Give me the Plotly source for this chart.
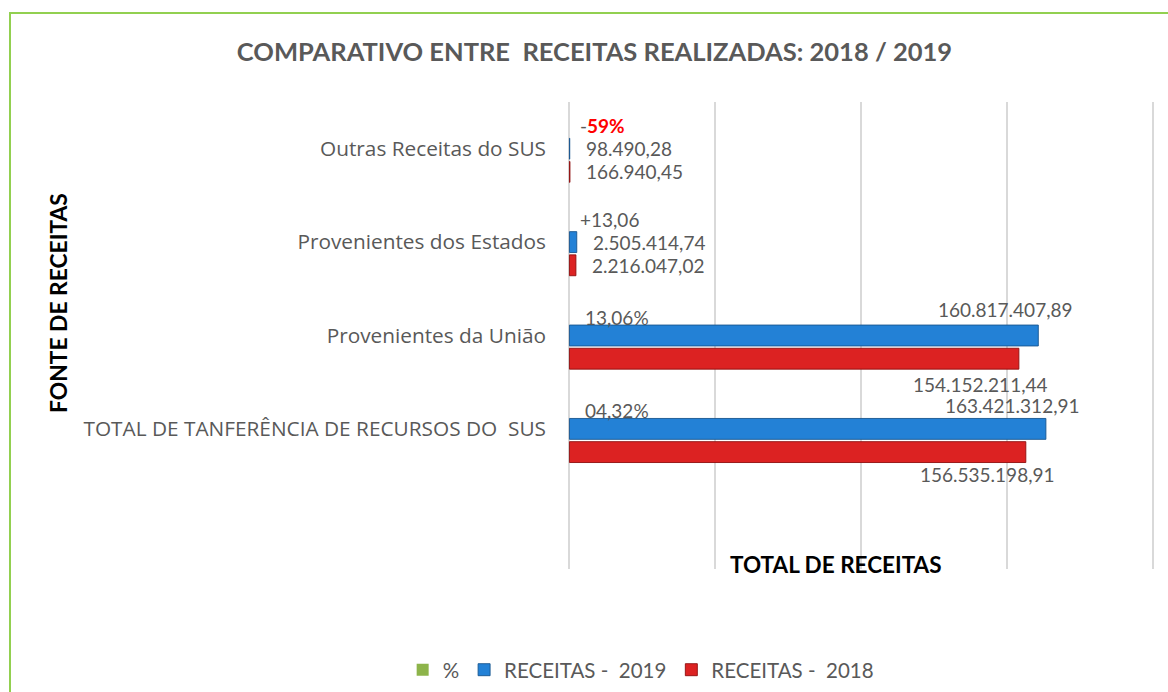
import plotly.graph_objects as go

# ---- data ----
categories = ["TOTAL DE TANFERÊNCIA DE RECURSOS DO\u00a0\u00a0SUS",
              "Provenientes da União",
              "Provenientes dos Estados",
              "Outras Receitas do SUS"]
receitas_2019 = [163421312.91, 160817407.89, 2505414.74, 98490.28]
receitas_2018 = [156535198.91, 154152211.44, 2216047.02, 166940.45]
pct_values = [0, 0, 0, 0]
pct_labels = ["04,32%", "13,06%", "+13,06", "-59%"]

def br(v):
    s = f"{v:,.2f}"
    return s.replace(",", "X").replace(".", ",").replace("X", ".")

GREY = "#595959"
FONT = "Lato"
TICKFONT = "Open Sans"
LBL = 19

fig = go.Figure()
fig.add_trace(go.Bar(name="RECEITAS -\u00a0\u00a02018", y=categories, x=receitas_2018, orientation="h",
                     marker=dict(color="#DC2222", line=dict(color="#8E0E0E", width=0.9)),
                     legendrank=3))
fig.add_trace(go.Bar(name="RECEITAS -\u00a0\u00a02019", y=categories, x=receitas_2019, orientation="h",
                     marker=dict(color="#2381D6", line=dict(color="#17568F", width=0.9)),
                     legendrank=2))
fig.add_trace(go.Bar(name="%", y=categories, x=pct_values, orientation="h",
                     marker=dict(color="#8DB44A", line=dict(width=0)),
                     legendrank=1))

ann = []
SLOT = 23
for i, cat in enumerate(categories):
    v19, v18 = receitas_2019[i], receitas_2018[i]
    big = v19 > 50e6
    off = 26 if i == 1 else 23
    if pct_labels[i].startswith("-"):
        txt = f"<span style='color:{GREY}'>-</span><b><span style='color:#FF0000'>{pct_labels[i][1:]}</span></b>"
    else:
        txt = pct_labels[i]
    ann.append(dict(x=0, y=cat, xref="x", yref="y", text=txt, showarrow=False,
                    xanchor="left", yanchor="middle", xshift=14 if big else 9,
                    yshift=SLOT + (-5 if big else 0),
                    font=dict(family=FONT, size=LBL, color=GREY)))
    if big:
        ann.append(dict(x=v19, y=cat, xref="x", yref="y", text=br(v19), showarrow=False,
                        xanchor="center", yanchor="middle", xshift=-33, yshift=off,
                        font=dict(family=FONT, size=LBL, color=GREY)))
        ann.append(dict(x=v18, y=cat, xref="x", yref="y", text=br(v18), showarrow=False,
                        xanchor="center", yanchor="middle", xshift=-38, yshift=-SLOT - off,
                        font=dict(family=FONT, size=LBL, color=GREY)))
    else:
        ann.append(dict(x=v19, y=cat, xref="x", yref="y", text=br(v19), showarrow=False,
                        xanchor="left", yanchor="middle", xshift=14, yshift=0,
                        font=dict(family=FONT, size=LBL, color=GREY)))
        ann.append(dict(x=v18, y=cat, xref="x", yref="y", text=br(v18), showarrow=False,
                        xanchor="left", yanchor="middle", xshift=14, yshift=-SLOT,
                        font=dict(family=FONT, size=LBL, color=GREY)))

ann.append(dict(x=0.458, y=0.01, xref="paper", yref="paper", text="<b>TOTAL DE RECEITAS</b>",
                showarrow=False, xanchor="center", yanchor="middle",
                font=dict(family=FONT, size=22.5, color="#000000")))
ann.append(dict(x=-0.87, y=0.57, xref="paper", yref="paper", text="<b>FONTE DE RECEITAS</b>",
                showarrow=False, xanchor="center", yanchor="middle", textangle=-90,
                font=dict(family=FONT, size=22.8, color="#000000")))

fig.update_layout(
    width=1168, height=692,
    margin=dict(l=568, r=14, t=102, b=123, autoexpand=False),
    paper_bgcolor="white", plot_bgcolor="white",
    barmode="group", bargap=0.255, bargroupgap=0.1,
    title=dict(text="<b>COMPARATIVO ENTRE\u00a0\u00a0RECEITAS REALIZADAS: 2018 / 2019</b>",
               x=0.509, xanchor="center", y=0.925, yanchor="middle",
               font=dict(family=FONT, size=25.5, color=GREY)),
    xaxis=dict(range=[-0.5e6, 200.5e6], tickvals=[0, 50e6, 100e6, 150e6, 200e6],
               showticklabels=False, showgrid=True,
               gridcolor="#D9D9D9", gridwidth=1.5, zeroline=False, showline=False,
               automargin=False),
    yaxis=dict(categoryorder="array", categoryarray=categories, range=[-1.5, 3.5],
               showgrid=False, zeroline=False, showline=False, ticks="",
               ticklabelstandoff=21, automargin=False,
               tickfont=dict(family=TICKFONT, size=20.8, color=GREY)),
    legend=dict(orientation="h", x=0.124, y=-0.216, xanchor="center", yanchor="middle",
                font=dict(family=FONT, size=20.5, color=GREY), itemwidth=30,
                traceorder="normal"),
    annotations=ann,
    shapes=[dict(type="rect", xref="paper", yref="paper",
                 x0=(10 - 568) / 586, x1=(1200 - 568) / 586,
                 y0=-(730 - 569) / 467, y1=1 + (102 - 13) / 467,
                 line=dict(color="#92D050", width=2), fillcolor="rgba(0,0,0,0)", layer="below")],
    showlegend=True,
)

fig.write_html("out.html", config={"displayModeBar": False},
               post_script="document.body.style.margin='0';document.body.style.overflow='hidden';")
